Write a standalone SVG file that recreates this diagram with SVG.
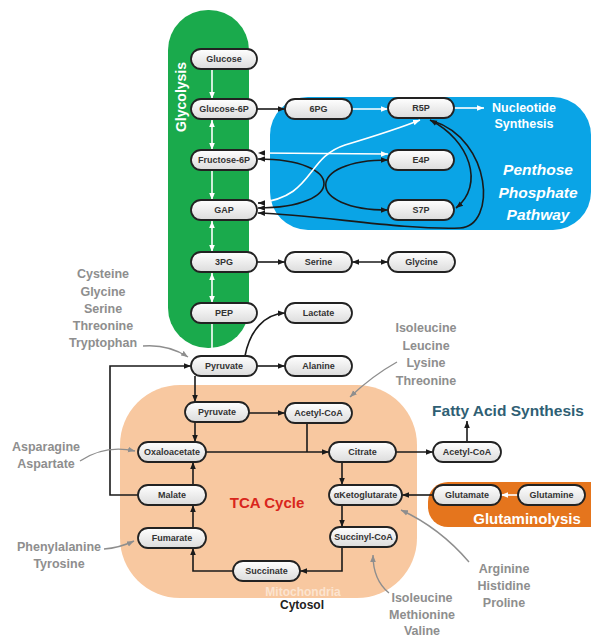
<svg xmlns="http://www.w3.org/2000/svg" width="591" height="640" viewBox="0 0 591 640">
<defs>
<linearGradient id="ng" x1="0" y1="0" x2="0" y2="1">
<stop offset="0" stop-color="#FFFFFF"/>
<stop offset="1" stop-color="#DCDCDC"/>
</linearGradient>
<marker id="ab" viewBox="0 0 10 10" refX="10" refY="5" markerWidth="7" markerHeight="7" markerUnits="userSpaceOnUse" orient="auto-start-reverse"><path d="M0,1 L10,5 L0,9 z" fill="#1a1a1a"/></marker>
<marker id="aw" viewBox="0 0 10 10" refX="10" refY="5" markerWidth="7" markerHeight="7" markerUnits="userSpaceOnUse" orient="auto-start-reverse"><path d="M0,1 L10,5 L0,9 z" fill="#FFFFFF"/></marker>
<marker id="ag" viewBox="0 0 10 10" refX="10" refY="5" markerWidth="7" markerHeight="7" markerUnits="userSpaceOnUse" orient="auto-start-reverse"><path d="M0,1 L10,5 L0,9 z" fill="#8E8E8E"/></marker>
</defs>
<style>
text{font-family:"Liberation Sans",Arial,sans-serif;font-weight:bold;}
.node rect{fill:url(#ng);stroke:#222;stroke-width:1.8;}
.node text{font-size:9px;fill:#333;text-anchor:middle;}
.bk{fill:none;stroke:#1a1a1a;stroke-width:1.6;}
.wh{fill:none;stroke:#FFFFFF;stroke-width:1.6;}
.gr{fill:none;stroke:#8E8E8E;stroke-width:1.4;}
.lbl{font-size:12.5px;fill:#8E8E8E;text-anchor:middle;}
</style>

<g id="regions">
<rect x="168" y="10" width="81" height="338" rx="40" ry="40" fill="#1AAA4C"/>
<rect x="270" y="97" width="321" height="133" rx="38" ry="38" fill="#0AA4E6"/>
<rect x="120" y="385" width="297" height="213" rx="60" ry="60" fill="#F8C8A0"/>
<rect x="428" y="482" width="200" height="45" rx="20" ry="20" fill="#E5751D"/>
</g>

<g id="region-labels">
<text x="0" y="0" transform="translate(186,97) rotate(-90)" font-size="14" fill="#FFFFFF" text-anchor="middle">Glycolysis</text>
<text x="524" y="112" font-size="12.5" fill="#FFFFFF" text-anchor="middle">Nucleotide</text>
<text x="524" y="128" font-size="12.5" fill="#FFFFFF" text-anchor="middle">Synthesis</text>
<text x="538" y="175" font-size="15.5" fill="#FFFFFF" text-anchor="middle" font-style="italic">Penthose</text>
<text x="538" y="198" font-size="15.5" fill="#FFFFFF" text-anchor="middle" font-style="italic">Phosphate</text>
<text x="538" y="220" font-size="15.5" fill="#FFFFFF" text-anchor="middle" font-style="italic">Pathway</text>
<text x="267" y="508" font-size="15" fill="#D9261C" text-anchor="middle">TCA Cycle</text>
<text x="508" y="416" font-size="15.5" fill="#2F5F74" text-anchor="middle">Fatty Acid Synthesis</text>
<text x="527" y="524" font-size="15" fill="#FFFFFF" text-anchor="middle">Glutaminolysis</text>
<text x="303" y="596" font-size="12" fill="#FCE4D0" text-anchor="middle">Mitochondria</text>
<text x="302" y="609" font-size="12" fill="#222" text-anchor="middle">Cytosol</text>
</g>

<g id="amino-labels">
<text class="lbl" x="103" y="278">Cysteine</text>
<text class="lbl" x="103" y="295.5">Glycine</text>
<text class="lbl" x="103" y="313">Serine</text>
<text class="lbl" x="103" y="330">Threonine</text>
<text class="lbl" x="103" y="347">Tryptophan</text>
<text class="lbl" x="426" y="332">Isoleucine</text>
<text class="lbl" x="426" y="350">Leucine</text>
<text class="lbl" x="426" y="367">Lysine</text>
<text class="lbl" x="426" y="385">Threonine</text>
<text class="lbl" x="46" y="451">Asparagine</text>
<text class="lbl" x="46" y="468">Aspartate</text>
<text class="lbl" x="59" y="551">Phenylalanine</text>
<text class="lbl" x="59" y="568">Tyrosine</text>
<text class="lbl" x="504" y="573">Arginine</text>
<text class="lbl" x="504" y="590">Histidine</text>
<text class="lbl" x="504" y="607">Proline</text>
<text class="lbl" x="422" y="602">Isoleucine</text>
<text class="lbl" x="422" y="619">Methionine</text>
<text class="lbl" x="422" y="635">Valine</text>
</g>

<g id="connectors">
<!-- glycolysis (white) -->
<line class="wh" x1="212" y1="69" x2="212" y2="99" marker-end="url(#aw)"/>
<line class="wh" x1="212" y1="120" x2="212" y2="150" marker-start="url(#aw)" marker-end="url(#aw)"/>
<line class="wh" x1="212" y1="170" x2="212" y2="200" marker-end="url(#aw)"/>
<line class="wh" x1="212" y1="221" x2="212" y2="252" marker-start="url(#aw)" marker-end="url(#aw)"/>
<line class="wh" x1="212" y1="273" x2="212" y2="303" marker-start="url(#aw)" marker-end="url(#aw)"/>
<line class="wh" x1="212" y1="323" x2="212" y2="356" marker-end="url(#aw)"/>
<!-- PPP -->
<line class="bk" x1="257" y1="109" x2="285" y2="109" marker-end="url(#ab)"/>
<line class="wh" x1="352" y1="109" x2="388" y2="109" marker-end="url(#aw)"/>
<line class="wh" x1="454" y1="108" x2="484" y2="108" marker-end="url(#aw)"/>
<line class="wh" x1="258" y1="153" x2="388" y2="154" marker-start="url(#ab)" marker-end="url(#aw)"/>
<path class="bk" d="M258,159 C346,159 346,208 258,208" marker-start="url(#ab)" marker-end="url(#ab)"/>
<path class="bk" d="M388,160 C305,160 305,210 388,210" marker-start="url(#ab)" marker-end="url(#ab)"/>
<path class="wh" d="M258,203 C315,197 305,158 345,145 C375,136 400,128 420,120" marker-end="url(#aw)"/>
<path class="bk" d="M262,203 L258,203" marker-end="url(#ab)"/>
<path class="bk" d="M430,120 C470,140 485,185 456,208" marker-start="url(#ab)" marker-end="url(#ab)"/>
<path class="bk" d="M433,121 C492,140 497,226 460,228 C400,230 320,215 258,213" marker-end="url(#ab)"/>
<!-- side reactions -->
<line class="bk" x1="257" y1="262" x2="285" y2="262" marker-end="url(#ab)"/>
<line class="bk" x1="352" y1="262" x2="388" y2="262" marker-start="url(#ab)" marker-end="url(#ab)"/>
<path class="bk" d="M245,356 C250,330 265,314 285,313" marker-end="url(#ab)"/>
<line class="bk" x1="257" y1="366" x2="285" y2="366" marker-end="url(#ab)"/>
<line class="bk" x1="195" y1="376" x2="195" y2="402" marker-end="url(#ab)"/>
<path class="bk" d="M138,495 L110,495 L110,366 L191,366" marker-end="url(#ab)"/>
<!-- TCA -->
<line class="bk" x1="195" y1="422" x2="195" y2="442" marker-end="url(#ab)"/>
<line class="bk" x1="249" y1="413" x2="285" y2="413" marker-end="url(#ab)"/>
<line class="bk" x1="206" y1="452" x2="329" y2="452" marker-end="url(#ab)"/>
<line class="bk" x1="307" y1="423" x2="307" y2="452"/>
<line class="bk" x1="342" y1="462" x2="342" y2="485" marker-end="url(#ab)"/>
<line class="bk" x1="342" y1="505" x2="342" y2="527" marker-end="url(#ab)"/>
<path class="bk" d="M342,547 L342,571 L300,571" marker-end="url(#ab)"/>
<path class="bk" d="M233,571 L193,571 L193,548" marker-end="url(#ab)"/>
<line class="bk" x1="193" y1="528" x2="193" y2="505" marker-end="url(#ab)"/>
<line class="bk" x1="193" y1="485" x2="193" y2="462" marker-end="url(#ab)"/>
<line class="bk" x1="396" y1="452" x2="433" y2="452" marker-end="url(#ab)"/>
<line class="bk" x1="467" y1="442" x2="467" y2="421" marker-end="url(#ab)"/>
<line class="wh" x1="518" y1="495" x2="501" y2="495" marker-end="url(#aw)"/>
<line class="bk" x1="433" y1="495" x2="402" y2="495" marker-end="url(#ab)"/>
<!-- amino acid inputs -->
<path class="gr" d="M143,346 Q168,344 188,357" marker-end="url(#ag)"/>
<path class="gr" d="M397,362 Q372,376 350,397" marker-end="url(#ag)"/>
<path class="gr" d="M80,461 C95,451 112,446 135,451" marker-end="url(#ag)"/>
<path class="gr" d="M104,549 Q119,548 134,541" marker-end="url(#ag)"/>
<path class="gr" d="M469,562 Q440,528 401,510" marker-end="url(#ag)"/>
<path class="gr" d="M389,593 Q373,580 373,555" marker-end="url(#ag)"/>
</g>

<g id="nodes">
<g class="node" id="n-glucose"><rect x="191" y="49" width="66" height="20" rx="10"/><text x="224" y="62">Glucose</text></g>
<g class="node" id="n-g6p"><rect x="191" y="99" width="66" height="20" rx="10"/><text x="224" y="112">Glucose-6P</text></g>
<g class="node" id="n-f6p"><rect x="191" y="150" width="66" height="20" rx="10"/><text x="224" y="163">Fructose-6P</text></g>
<g class="node" id="n-gap"><rect x="191" y="200" width="66" height="20" rx="10"/><text x="224" y="213">GAP</text></g>
<g class="node" id="n-3pg"><rect x="191" y="252" width="66" height="20" rx="10"/><text x="224" y="265">3PG</text></g>
<g class="node" id="n-pep"><rect x="191" y="303" width="66" height="20" rx="10"/><text x="224" y="316">PEP</text></g>
<g class="node" id="n-pyr-c"><rect x="191" y="356" width="66" height="20" rx="10"/><text x="224" y="369">Pyruvate</text></g>
<g class="node" id="n-6pg"><rect x="285" y="99" width="67" height="20" rx="10"/><text x="318.5" y="112">6PG</text></g>
<g class="node" id="n-r5p"><rect x="388" y="98" width="66" height="20" rx="10"/><text x="421" y="111">R5P</text></g>
<g class="node" id="n-e4p"><rect x="388" y="150" width="66" height="20" rx="10"/><text x="421" y="163">E4P</text></g>
<g class="node" id="n-s7p"><rect x="388" y="200" width="66" height="20" rx="10"/><text x="421" y="213">S7P</text></g>
<g class="node" id="n-serine"><rect x="285" y="252" width="67" height="20" rx="10"/><text x="318.5" y="265">Serine</text></g>
<g class="node" id="n-glycine"><rect x="388" y="252" width="67" height="20" rx="10"/><text x="421.5" y="265">Glycine</text></g>
<g class="node" id="n-lactate"><rect x="285" y="303" width="67" height="20" rx="10"/><text x="318.5" y="316">Lactate</text></g>
<g class="node" id="n-alanine"><rect x="285" y="356" width="67" height="20" rx="10"/><text x="318.5" y="369">Alanine</text></g>
<g class="node" id="n-pyr-m"><rect x="185" y="402" width="64" height="20" rx="10"/><text x="217" y="415">Pyruvate</text></g>
<g class="node" id="n-acoa-m"><rect x="285" y="403" width="67" height="20" rx="10"/><text x="318.5" y="416">Acetyl-CoA</text></g>
<g class="node" id="n-oaa"><rect x="138" y="442" width="68" height="20" rx="10"/><text x="172" y="455">Oxaloacetate</text></g>
<g class="node" id="n-citrate"><rect x="329" y="442" width="67" height="20" rx="10"/><text x="362.5" y="455">Citrate</text></g>
<g class="node" id="n-malate"><rect x="138" y="485" width="68" height="20" rx="10"/><text x="172" y="498">Malate</text></g>
<g class="node" id="n-akg"><rect x="329" y="485" width="73" height="20" rx="10"/><text x="365.5" y="498">αKetoglutarate</text></g>
<g class="node" id="n-fumarate"><rect x="138" y="528" width="68" height="20" rx="10"/><text x="172" y="541">Fumarate</text></g>
<g class="node" id="n-succoa"><rect x="330" y="527" width="67" height="20" rx="10"/><text x="363.5" y="540">Succinyl-CoA</text></g>
<g class="node" id="n-succinate"><rect x="233" y="561" width="67" height="20" rx="10"/><text x="266.5" y="574">Succinate</text></g>
<g class="node" id="n-acoa-c"><rect x="433" y="442" width="68" height="20" rx="10"/><text x="467" y="455">Acetyl-CoA</text></g>
<g class="node" id="n-glutamate"><rect x="433" y="485" width="68" height="20" rx="10"/><text x="467" y="498">Glutamate</text></g>
<g class="node" id="n-glutamine"><rect x="518" y="485" width="67" height="20" rx="10"/><text x="551.5" y="498">Glutamine</text></g>
</g>
</svg>
